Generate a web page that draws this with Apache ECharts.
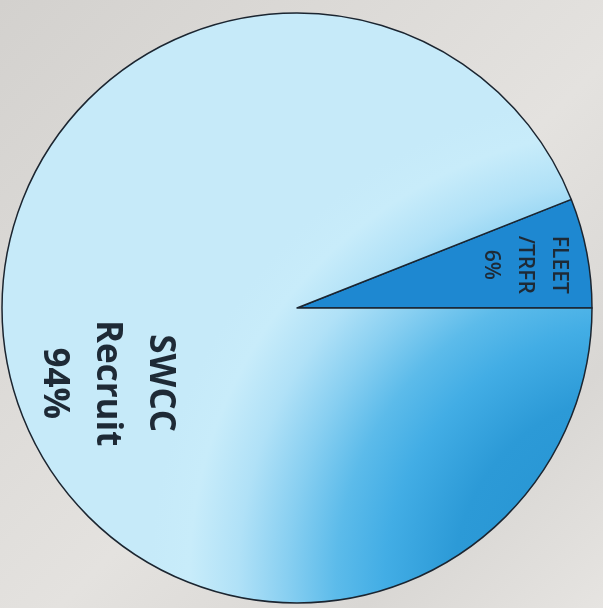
<!DOCTYPE html>
<html>
<head>
<meta charset="utf-8">
<script src="https://cdn.jsdelivr.net/npm/echarts@6/dist/echarts.min.js"></script>
<style>
html,body{margin:0;padding:0;width:603px;height:608px;overflow:hidden;
background:linear-gradient(135deg,#d3d1ce 0%,#dcdad7 30%,#e4e2df 55%,#d9d7d4 80%,#e6e4e1 100%);}
#chart{width:603px;height:608px;}
</style>
</head>
<body>
<div id="chart"></div>
<script>
const categories = ['FLEET\n/TRFR', 'SWCC\nRecruit'];
const values = [6, 94];

const chart = echarts.init(document.getElementById('chart'), null, {renderer: 'canvas'});

const lightFill = new echarts.graphic.RadialGradient(640, 580, 490, [
  {offset: 0, color: '#2290d0'},
  {offset: 0.38, color: '#2c9ad7'},
  {offset: 0.52, color: '#42ade5'},
  {offset: 0.62, color: '#5cbbea'},
  {offset: 0.72, color: '#88cff1'},
  {offset: 0.82, color: '#b0e1f7'},
  {offset: 0.92, color: '#c8ecfa'},
  {offset: 1, color: '#c6eaf9'}
], true);

const option = {
  backgroundColor: 'transparent',
  animation: false,
  series: [{
    type: 'pie',
    center: [297, 308],
    radius: [0, 295],
    startAngle: 21.6,
    clockwise: true,
    avoidLabelOverlap: false,
    itemStyle: {borderColor: '#1b2530', borderWidth: 1.5},
    emphasis: {disabled: true},
    label: {
      show: true,
      position: 'inside',
      rotate: -90,
      formatter: '{b}\n{d}%',
      color: '#1e2a36',
      fontFamily: 'Open Sans'
    },
    labelLine: {show: false},
    labelLayout: function (p) {
      if (p.dataIndex === 0) return {dx: -15, dy: -80};
      return {dx: 47, dy: 42};
    },
    data: [
      {name: categories[0], value: values[0],
        itemStyle: {color: '#1e88d1'},
        label: {fontSize: 21, fontWeight: 600, lineHeight: 34}},
      {name: categories[1], value: values[1],
        itemStyle: {color: lightFill},
        label: {fontSize: 35, fontWeight: 'bold', lineHeight: 53}}
    ]
  }]
};
chart.setOption(option);
</script>
</body>
</html>
